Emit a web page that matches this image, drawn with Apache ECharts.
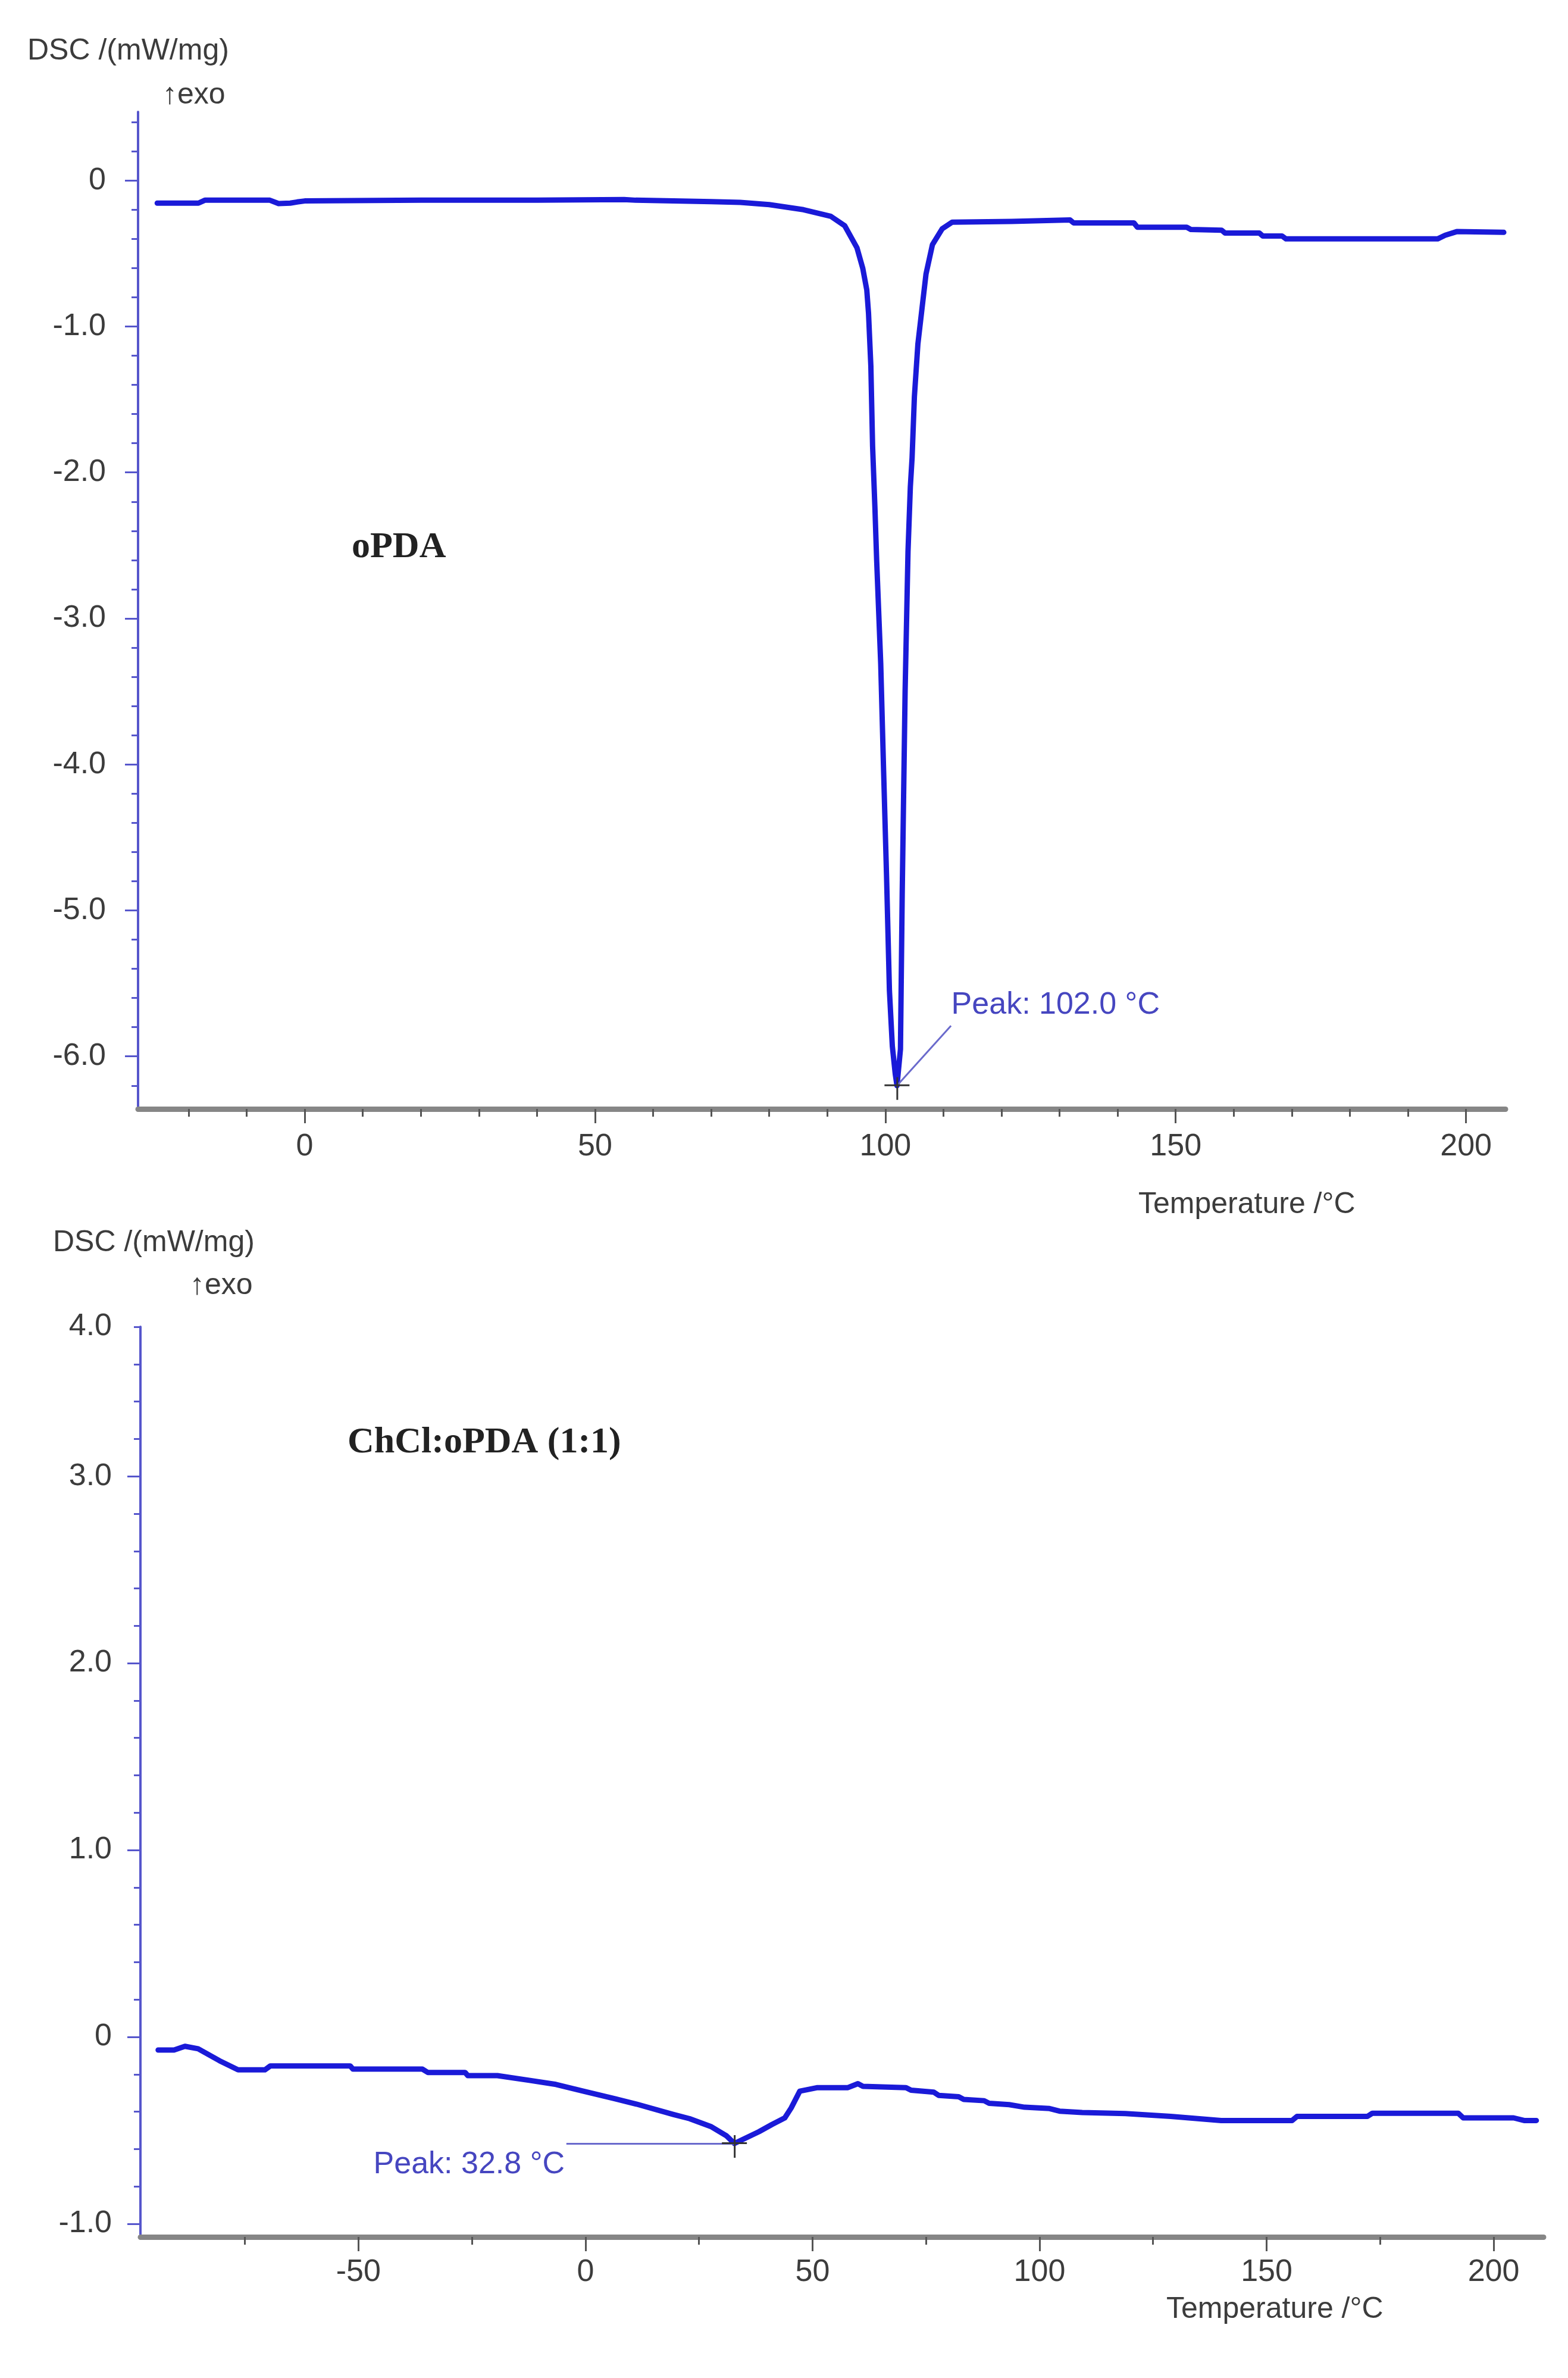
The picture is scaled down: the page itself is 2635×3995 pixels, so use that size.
<!DOCTYPE html>
<html>
<head>
<meta charset="utf-8">
<title>DSC oPDA / ChCl:oPDA</title>
<script src="https://cdn.jsdelivr.net/npm/echarts@6/dist/echarts.min.js"></script>
<style>
  html, body { margin: 0; padding: 0; background: #fff; }
  #chart { width: 2635px; height: 3995px; }
</style>
</head>
<body>
<div id="chart"></div>
<script>
// oPDA trace (top panel)
const topTemp = [-25.4, -18.3, -17.2, -6.0, -4.5, -2.5, -1.3, 0, 20, 40, 55, 57, 70, 75, 80,
  85.9, 90.6, 93.0, 95.1, 96.1, 96.8, 97.1, 97.5, 97.8, 98.2, 98.5, 99.2, 99.7, 100.2, 100.7,
  101.2, 101.7, 102.0, 102.6, 102.9, 103.4, 103.9, 104.3, 104.6, 105.0, 105.6, 106.3, 107.0,
  108.1, 109.8, 111.5, 121.7, 131.8, 132.4, 142.8, 143.4, 151.9, 152.6, 157.9, 158.5, 164.4,
  165.0, 168.3, 169.0, 195.1, 196.4, 198.4, 206.5];
const topDsc = [-0.155, -0.155, -0.135, -0.135, -0.158, -0.155, -0.147, -0.14, -0.135, -0.135,
  -0.13, -0.135, -0.145, -0.15, -0.165,
  -0.20, -0.245, -0.31, -0.46, -0.60, -0.75, -0.91, -1.27, -1.82, -2.24, -2.60, -3.31, -4.05,
  -4.76, -5.55, -5.93, -6.12, -6.20, -5.95, -4.89, -3.50, -2.54, -2.10, -1.90, -1.48, -1.12,
  -0.88, -0.64, -0.44, -0.33, -0.285, -0.28, -0.27, -0.29, -0.29, -0.32, -0.32, -0.335, -0.34,
  -0.36, -0.36, -0.38, -0.38, -0.40, -0.40, -0.375, -0.35, -0.355];

// ChCl:oPDA (1:1) trace (bottom panel)
const botTemp = [-94.1, -90.6, -88.2, -85.3, -80.6, -76.5, -70.6, -69.4, -51.8, -51.2, -35.9,
  -34.7, -26.5, -25.9, -19.4, -12.4, -6.5, -0.6, 6.5, 11.2, 19.4, 22.9, 27.6, 31.0, 32.8, 38.2,
  41.1, 43.9, 45.3, 47.2, 51.1, 57.8, 60.0, 61.1, 70.6, 71.7, 76.7, 77.8, 82.2, 83.3, 87.8, 88.9,
  93.3, 96.7, 102.2, 104.4, 109.4, 118.9, 128.9, 140.0, 155.6, 156.7, 172.2, 173.3, 192.2, 193.3,
  204.4, 206.7, 209.4];
const botDsc = [-0.07, -0.07, -0.05, -0.063, -0.127, -0.176, -0.176, -0.155, -0.155, -0.172, -0.172,
  -0.19, -0.19, -0.207, -0.207, -0.232, -0.254, -0.289, -0.331, -0.359, -0.415, -0.437, -0.479,
  -0.528, -0.57, -0.507, -0.468, -0.433, -0.38, -0.29, -0.271, -0.271, -0.25, -0.264, -0.271,
  -0.285, -0.295, -0.313, -0.32, -0.334, -0.341, -0.355, -0.362, -0.376, -0.383, -0.397, -0.404,
  -0.41, -0.425, -0.447, -0.447, -0.425, -0.425, -0.408, -0.408, -0.433, -0.433, -0.447, -0.447];

// ticks and labels
const topXTicks = [0, 50, 100, 150, 200];
const topYTicks = [-6, -5, -4, -3, -2, -1, 0];
const botXTicks = [-50, 0, 50, 100, 150, 200];
const botYTicks = [-1, 0, 1, 2, 3];
const botYLabelVals = [-1, 0, 1, 2, 3, 3.8];
const botYLabelText = ['-1.0', '0', '1.0', '2.0', '3.0', '4.0'];

// peak annotations
const topPeak = [102.0, -6.2];
const topLeaderEnd = [111.3, -5.79];
const topPeakLabelAt = [111.3, -5.65];
const botPeak = [32.8, -0.57];
const botLeaderEnd = [-4.2, -0.57];
const botPeakLabelAt = [-4.5, -0.685];

const LINE_BLUE = '#1a1ad8';
const AXIS_BLUE = '#5656cc';
const TXT = '#3c3c3c';
const PEAK_TXT = '#4646c0';
const SANS = '"Liberation Sans", Arial, sans-serif';
const SERIF = '"Liberation Serif", "Times New Roman", serif';

function minorTicks(from, to, step, skip) {
  const out = [];
  for (let v = from; v <= to + 1e-9; v += step) {
    const r = Math.round(v * 100) / 100;
    if (!skip.some(s => Math.abs(s - r) < 1e-6)) out.push(r);
  }
  return out;
}
const topXMinor = minorTicks(-20, 200, 10, topXTicks);
const topYMinor = minorTicks(-6.2, 0.4, 0.2, topYTicks);
const botXMinor = minorTicks(-75, 200, 25, botXTicks);
const botYMinor = minorTicks(-0.8, 3.8, 0.2, botYTicks);

const yFmt = v => (v === 0 ? '0' : v.toFixed(1));
const crossPath = 'path://M0,12h42v3h-42z M20,0h3v38h-3z';

function xAxes(grid, min, max, major, minor, margin) {
  return [{
    type: 'value', gridIndex: grid, position: 'bottom', min: min, max: max,
    splitLine: { show: false },
    axisLine: { show: true, onZero: false, lineStyle: { color: '#868686', width: 9 } },
    axisTick: { show: true, inside: false, length: 24, customValues: major,
      lineStyle: { color: '#555', width: 3 } },
    axisLabel: { show: true, customValues: major, margin: margin, color: TXT,
      fontSize: 52, fontFamily: SANS, formatter: v => String(v) }
  }, {
    type: 'value', gridIndex: grid, position: 'bottom', min: min, max: max,
    splitLine: { show: false },
    axisLine: { show: false, onZero: false },
    axisTick: { show: true, inside: false, length: 13, customValues: minor,
      lineStyle: { color: '#555', width: 3 } },
    axisLabel: { show: false }
  }];
}

function yAxes(grid, min, max, major, labelVals, minor, fmt, margin) {
  return [{
    type: 'value', gridIndex: grid, position: 'left', min: min, max: max,
    splitLine: { show: false },
    axisLine: { show: true, onZero: false, lineStyle: { color: AXIS_BLUE, width: 4 } },
    axisTick: { show: true, inside: false, length: 22, customValues: major,
      lineStyle: { color: AXIS_BLUE, width: 3 } },
    axisLabel: { show: true, customValues: labelVals, margin: margin, color: TXT,
      fontSize: 52, fontFamily: SANS, formatter: fmt }
  }, {
    type: 'value', gridIndex: grid, position: 'left', min: min, max: max,
    splitLine: { show: false },
    axisLine: { show: false, onZero: false },
    axisTick: { show: true, inside: false, length: 11, customValues: minor,
      lineStyle: { color: AXIS_BLUE, width: 3 } },
    axisLabel: { show: false }
  }];
}

function peakMarks(peak, leaderEnd, labelAt, text, labelPos) {
  return {
    markLine: {
      silent: true, symbol: 'none', animation: false,
      label: { show: false },
      lineStyle: { color: '#6a6acc', width: 3, type: 'solid' },
      emphasis: { disabled: true },
      data: [[{ coord: peak }, { coord: leaderEnd }]]
    },
    markPoint: {
      silent: true, animation: false,
      data: [
        { coord: peak, symbol: crossPath, symbolSize: [42, 38], symbolOffset: [0, 5],
          itemStyle: { color: '#333' }, label: { show: false } },
        { coord: labelAt, symbol: 'circle', symbolSize: 1,
          itemStyle: { color: 'rgba(0,0,0,0)' },
          label: { show: true, position: labelPos, distance: 0, formatter: text,
            color: PEAK_TXT, fontSize: 52, fontFamily: SANS } }
      ]
    }
  };
}

function texts(items) {
  return items.map(t => ({
    type: 'text', x: t[1], y: t[2], silent: true,
    style: { text: t[0], fill: t[5] || TXT, fontSize: t[3], fontFamily: t[4] || SANS,
      fontWeight: t[6] || 'normal', align: 'left', verticalAlign: 'middle' }
  }));
}

const chart = echarts.init(document.getElementById('chart'), null, { renderer: 'canvas' });
chart.setOption({
  backgroundColor: '#ffffff',
  animation: false,
  grid: [
    { left: 232, right: 105, top: 188, bottom: 2132, outerBoundsMode: 'none' },
    { left: 236, right: 41, top: 2229, bottom: 237, outerBoundsMode: 'none' }
  ],
  xAxis: [
    ...xAxes(0, -28.7, 206.8, topXTicks, topXMinor, 38),
    ...xAxes(1, -98, 211, botXTicks, botXMinor, 34)
  ],
  yAxis: [
    ...yAxes(0, -6.36, 0.47, topYTicks, topYTicks, topYMinor, yFmt, 54),
    ...yAxes(1, -1.07, 3.8, botYTicks, botYLabelVals, botYMinor,
      v => botYLabelText[botYLabelVals.findIndex(b => Math.abs(b - v) < 1e-6)] || yFmt(v), 48)
  ],
  series: [
    Object.assign({
      type: 'line', name: 'oPDA', xAxisIndex: 0, yAxisIndex: 0,
      data: topTemp.map((t, i) => [t, topDsc[i]]),
      showSymbol: false, symbol: 'none', silent: true,
      lineStyle: { color: LINE_BLUE, width: 9, join: 'round', cap: 'round' },
      itemStyle: { color: LINE_BLUE },
      emphasis: { disabled: true }
    }, peakMarks(topPeak, topLeaderEnd, topPeakLabelAt, 'Peak: 102.0 °C', 'right')),
    Object.assign({
      type: 'line', name: 'ChCl:oPDA (1:1)', xAxisIndex: 2, yAxisIndex: 2,
      data: botTemp.map((t, i) => [t, botDsc[i]]),
      showSymbol: false, symbol: 'none', silent: true,
      lineStyle: { color: LINE_BLUE, width: 9, join: 'round', cap: 'round' },
      itemStyle: { color: LINE_BLUE },
      emphasis: { disabled: true }
    }, peakMarks(botPeak, botLeaderEnd, botPeakLabelAt, 'Peak: 32.8 °C', 'left'))
  ],
  graphic: texts([
    ['DSC /(mW/mg)', 46, 86, 50],
    ['↑exo', 273, 160, 50],
    ['oPDA', 591, 920, 62, SERIF, '#222', 'bold'],
    ['Temperature /°C', 1913, 2024, 50],
    ['DSC /(mW/mg)', 89, 2088, 50],
    ['↑exo', 319, 2160, 50],
    ['ChCl:oPDA (1:1)', 584, 2424, 62, SERIF, '#222', 'bold'],
    ['Temperature /°C', 1960, 3880, 50]
  ])
});
</script>
</body>
</html>
